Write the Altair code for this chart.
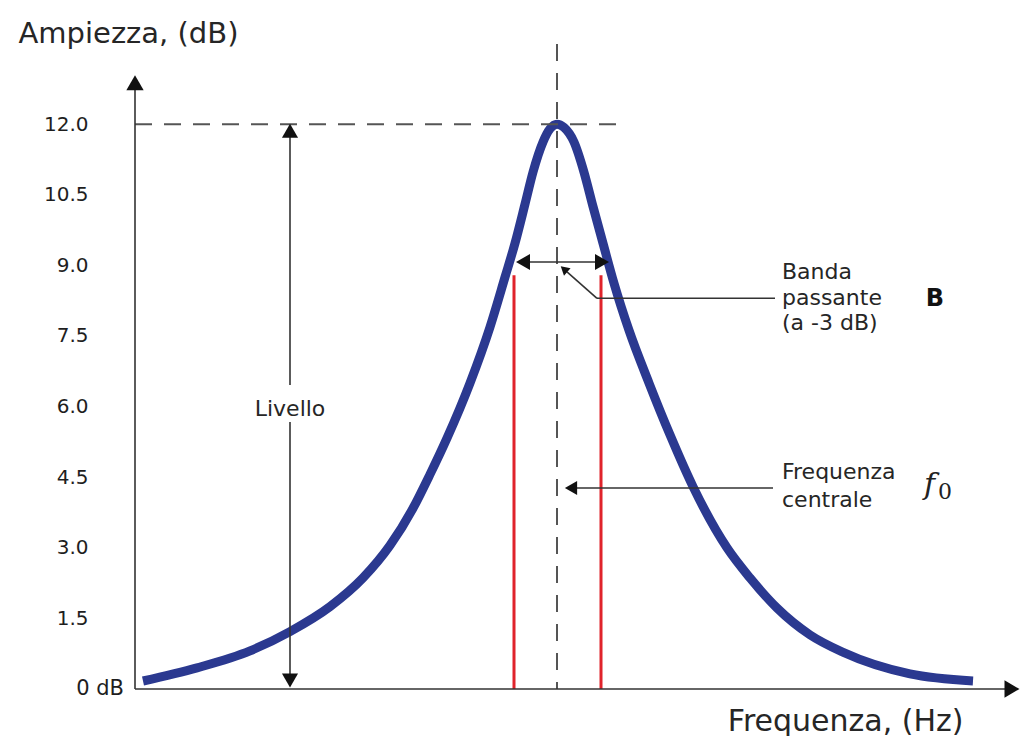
import altair as alt
import pandas as pd

# ---- curve (frequency in arbitrary units, amplitude in dB) ----
freq = [8, 62, 115, 155, 195, 228, 255, 278, 295, 312,
        335, 355, 370, 380, 390, 398, 408, 415, 422, 429,
        439, 449, 458, 468, 479, 494, 514, 535, 558, 592,
        615, 642, 675, 708, 775, 838]
ampl = [0.17, 0.45, 0.81, 1.22, 1.75, 2.36, 3.05, 3.84, 4.56, 5.33,
        6.50, 7.69, 8.75, 9.47, 10.30, 10.98, 11.62, 11.90, 12.0, 11.93,
        11.62, 10.98, 10.25, 9.47, 8.62, 7.62, 6.50, 5.40, 4.30, 3.0,
        2.36, 1.72, 1.15, 0.78, 0.32, 0.17]

tick_values = [1.5, 3.0, 4.5, 6.0, 7.5, 9.0, 10.5, 12.0]

f0 = 422
peak = 12.0
band_lo, band_hi = 379, 466
band_top = 8.79
level_x = 155

# solid annotation segments: x, y, x2, y2
seg_x = [0, 0, level_x, level_x, 388, 462, 462, 436]
seg_y = [0, 0, 11.8, 5.67, 9.07, 8.30, 8.30, 4.27]
seg_x2 = [0, 874, level_x, level_x, 467, 640, 432, 638]
seg_y2 = [12.8, 0, 6.46, 0.25, 9.07, 8.30, 8.86, 4.27]

# dashed reference lines
dash_x = [0, f0]
dash_y = [peak, 13.7]
dash_x2 = [490, f0]
dash_y2 = [peak, 0]

# red band edges
red_x = [band_lo, band_hi]
red_y = [0, 0]
red_x2 = [band_lo, band_hi]
red_y2 = [band_top, band_top]

# arrow heads
head_x = [0, 877, level_x, level_x, 388, 467, 436, 429]
head_y = [12.88, 0, 11.86, 0.18, 9.07, 9.07, 4.27, 8.92]
head_shape = ["triangle-up", "triangle-right", "triangle-up", "triangle-down",
              "triangle-left", "triangle-right", "triangle-left", "triangle-up"]
head_size = [300, 300, 260, 260, 260, 260, 200, 100]
head_angle = [0, 0, 0, 0, 0, 0, 0, 311]

# annotation texts
note_text = ["Banda", "passante", "(a -3 dB)", "Frequenza", "centrale"]
note_x = [647, 647, 647, 647, 647]
note_y = [8.86, 8.31, 7.78, 4.61, 4.02]

FONT = "DejaVu Sans"
TXT = "#262626"

xscale = alt.Scale(domain=[0, 880], nice=False, zero=False)
yscale = alt.Scale(domain=[0, 14], nice=False, zero=False)

xaxis = alt.Axis(labels=False, ticks=False, domain=False, grid=False,
                 title="Frequenza, (Hz)", titleX=828, titleY=41,
                 titleAlign="right", titleBaseline="alphabetic",
                 titleFont=FONT, titleFontSize=30, titleFontWeight="normal",
                 titleColor=TXT)
yaxis = alt.Axis(values=tick_values, format=".1f", ticks=False, domain=False,
                 grid=False, labelFont=FONT, labelFontSize=20, labelColor="#1e1e1e",
                 labelPadding=47,
                 title="Ampiezza, (dB)", titleAngle=0, titleX=-117, titleY=12,
                 titleAlign="left", titleBaseline="alphabetic",
                 titleFont=FONT, titleFontSize=29, titleFontWeight="normal",
                 titleColor=TXT)


def X(f="x"):
    return alt.X(f + ":Q", scale=xscale, axis=xaxis)


def Y(f="y"):
    return alt.Y(f + ":Q", scale=yscale, axis=yaxis)


curve_df = pd.DataFrame({"x": freq, "y": ampl})
seg_df = pd.DataFrame({"x": seg_x, "y": seg_y, "x2": seg_x2, "y2": seg_y2})
dash_df = pd.DataFrame({"x": dash_x, "y": dash_y, "x2": dash_x2, "y2": dash_y2})
red_df = pd.DataFrame({"x": red_x, "y": red_y, "x2": red_x2, "y2": red_y2})
head_df = pd.DataFrame({"x": head_x, "y": head_y, "shape": head_shape,
                        "size": head_size, "angle": head_angle})
note_df = pd.DataFrame({"x": note_x, "y": note_y, "t": note_text})

curve = alt.Chart(curve_df).mark_line(
    color="#2b3990", strokeWidth=9, interpolate="monotone", strokeCap="butt"
).encode(x=X(), y=Y())

dashed = alt.Chart(dash_df).mark_rule(
    color="#555555", strokeWidth=2, strokeDash=[17, 12]
).encode(x=X(), y=Y(), x2="x2:Q", y2="y2:Q")

red = alt.Chart(red_df).mark_rule(color="#e0232b", strokeWidth=3).encode(
    x=X(), y=Y(), x2="x2:Q", y2="y2:Q")

segs = alt.Chart(seg_df).mark_rule(color="#333333", strokeWidth=1.6).encode(
    x=X(), y=Y(), x2="x2:Q", y2="y2:Q")

heads = alt.Chart(head_df).mark_point(filled=True, opacity=1, color="#111111").encode(
    x=X(), y=Y(),
    shape=alt.Shape("shape:N", scale=None),
    size=alt.Size("size:Q", scale=None),
    angle=alt.Angle("angle:Q", scale=None))

notes = alt.Chart(note_df).mark_text(
    font=FONT, fontSize=22, color=TXT, align="left", baseline="middle"
).encode(x=X(), y=Y(), text="t:N")

livello = alt.Chart(pd.DataFrame({"x": [level_x], "y": [5.95], "t": ["Livello"]})).mark_text(
    font=FONT, fontSize=22, color=TXT, align="center", baseline="middle"
).encode(x=X(), y=Y(), text="t:N")

zero_lbl = alt.Chart(pd.DataFrame({"x": [-11], "y": [0], "t": ["0 dB"]})).mark_text(
    font=FONT, fontSize=21, color="#1e1e1e", align="right", baseline="middle"
).encode(x=X(), y=Y(), text="t:N")

b_lbl = alt.Chart(pd.DataFrame({"x": [800], "y": [8.28], "t": ["B"]})).mark_text(
    font=FONT, fontSize=24, fontWeight="bold", color="#111111",
    align="center", baseline="middle"
).encode(x=X(), y=Y(), text="t:N")

f_lbl = alt.Chart(pd.DataFrame({"x": [789], "y": [4.33], "t": ["f"]})).mark_text(
    font="DejaVu Serif", fontSize=30, fontStyle="italic", color="#222222",
    align="left", baseline="middle"
).encode(x=X(), y=Y(), text="t:N")

zero_sub = alt.Chart(pd.DataFrame({"x": [803], "y": [4.18], "t": ["0"]})).mark_text(
    font="DejaVu Serif", fontSize=22, color="#222222",
    align="left", baseline="middle"
).encode(x=X(), y=Y(), text="t:N")

chart = alt.layer(
    curve, dashed, red, segs, heads, notes, livello, zero_lbl, b_lbl, f_lbl, zero_sub
).properties(
    width=880, height=659,
    autosize=alt.AutoSizeParams(type="none"),
    padding={"left": 127, "top": 22, "right": 7, "bottom": 47},
    background="white",
).configure_view(stroke=None)

chart.save("out.html", embed_options={"renderer": "svg", "actions": False})
